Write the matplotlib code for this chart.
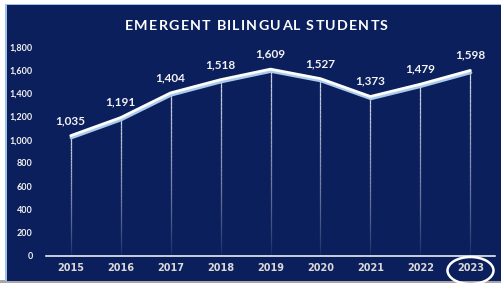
import matplotlib
matplotlib.use('Agg')
import matplotlib.pyplot as plt
import matplotlib.transforms as mtransforms
from matplotlib.patches import Rectangle, Ellipse
from matplotlib.collections import LineCollection
from matplotlib.font_manager import FontProperties
import numpy as np

years = ["2015", "2016", "2017", "2018", "2019", "2020", "2021", "2022", "2023"]
students = [1035, 1191, 1404, 1518, 1609, 1527, 1373, 1479, 1598]
y_ticks = [0, 200, 400, 600, 800, 1000, 1200, 1400, 1600, 1800]
title = "EMERGENT BILINGUAL STUDENTS"

NAVY = "#0B1F5C"
W, H = 502, 283

fig = plt.figure(figsize=(W / 100, H / 100), dpi=100)
fig.patch.set_facecolor("white")

# panel background with thin borders
fig.patches.append(Rectangle((0, 0), 1, 3 / H, transform=fig.transFigure,
                             facecolor="#A6A6A6", edgecolor="none", zorder=0))
fig.patches.append(Rectangle((5 / W, 2 / H), 1 - 5 / W, 1 - 6 / H, transform=fig.transFigure,
                             facecolor="#9DC3E6", edgecolor="none", zorder=0))
fig.patches.append(Rectangle((6.5 / W, 2 / H), 1, 1 - 7 / H, transform=fig.transFigure,
                             facecolor=NAVY, edgecolor="none", zorder=0))

ax = fig.add_axes([45.7 / W, (H - 255.7) / H, (495.3 - 45.7) / W, (255.7 - 47) / H])
ax.set_zorder(2)
ax.set_facecolor("none")
x = np.arange(len(years))

# drop lines fading to the bottom
n = 40
segs, cols = [], []
for xi, v in zip(x, students):
    ys = np.linspace(0, v, n + 1)
    for k in range(n):
        segs.append([(xi, ys[k]), (xi, ys[k + 1])])
        cols.append((1, 1, 1, 0.05 + 0.8 * (k / n) ** 0.8))
ax.add_collection(LineCollection(segs, colors=cols, linewidths=0.9, zorder=2))

shadow = mtransforms.offset_copy(ax.transData, fig=fig, x=0.5, y=-2.2, units="dots")
ax.plot(x, students, color="#A9CBEC", lw=2.2, transform=shadow, zorder=3,
        solid_capstyle="round")
ax.plot(x, students, color="white", lw=2.0, zorder=4, solid_capstyle="round")

for xi, v in zip(x, students):
    ax.annotate(f"{v:,}", (xi, v), xytext=(0, 11), textcoords="offset points",
                ha="center", va="center", color="#F2F2F2", fontsize=8.5,
                fontfamily="Lato", fontweight="bold", clip_on=False)

ax.set_xlim(-0.5, len(years) - 0.5)
ax.set_ylim(0, 1800)
ax.set_yticks(y_ticks)
ax.set_yticklabels([f"{t:,}" for t in y_ticks], fontfamily="Lato", fontweight="bold",
                   fontsize=6.5, color="#F2F2F2")
ax.set_xticks(x)
ax.set_xticklabels(years, fontfamily="DejaVu Sans", fontweight="bold", fontsize=7,
                   color="#D9D9D9")
ax.tick_params(axis="both", length=0)
ax.tick_params(axis="y", pad=9.5)
ax.tick_params(axis="x", pad=5)
for s in ["top", "right", "left"]:
    ax.spines[s].set_visible(False)
ax.spines["bottom"].set_color("white")
ax.spines["bottom"].set_linewidth(1.1)


def spaced_text(s, cx, cy, target_w, fp):
    # draw text char by char, spreading it to a target pixel width
    r = fig.canvas.get_renderer()
    def wid(t):
        return r.get_text_width_height_descent(t, fp, ismath=False)[0] if t else 0.0
    full = wid(s)
    gap = (target_w - full) / (len(s) - 1)
    x0 = cx - target_w / 2
    for i, ch in enumerate(s):
        if ch == " ":
            continue
        px = x0 + wid(s[:i]) + i * gap
        fig.text(px / W, (H - cy) / H, ch, ha="left", va="baseline", color="white",
                 fontproperties=fp, zorder=4)


spaced_text(title, 256.5, 29.5, 263, FontProperties(family="Lato", weight="bold", size=10.3))

fig.patches.append(Ellipse((470.5 / W, (H - 270.5) / H), 46 / W, 27 / H,
                           transform=fig.transFigure, facecolor="none",
                           edgecolor="white", lw=1.8, zorder=5))

fig.savefig("out.png", dpi=100, facecolor=fig.get_facecolor())
